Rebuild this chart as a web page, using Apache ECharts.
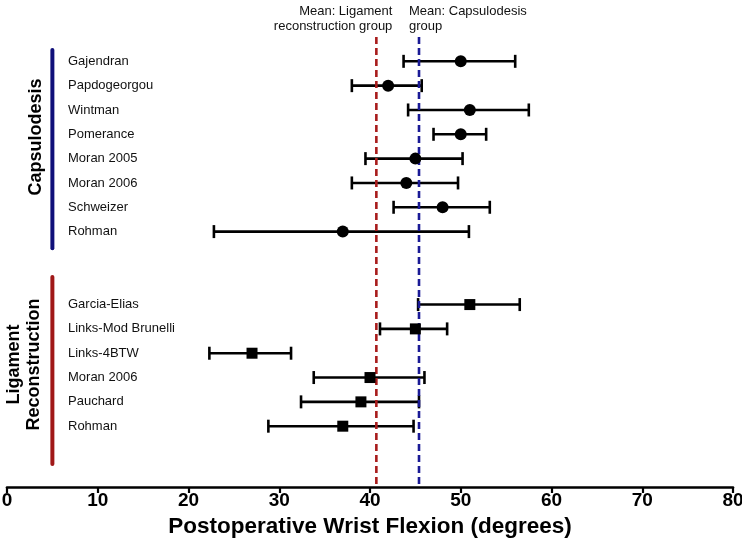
<!DOCTYPE html>
<html>
<head>
<meta charset="utf-8">
<script src="https://cdn.jsdelivr.net/npm/echarts@6/dist/echarts.min.js"></script>
<style>
html,body{margin:0;padding:0;background:#fff;}
#chart{width:742px;height:540px;}
</style>
</head>
<body>
<div id="chart"></div>
<script>
// Capsulodesis group
var capNames = ['Gajendran','Papdogeorgou','Wintman','Pomerance','Moran 2005','Moran 2006','Schweizer','Rohman'];
var capMean  = [50, 42, 51, 50, 45, 44, 48, 37];
var capLow   = [43.7, 38, 44.2, 47, 39.5, 38, 42.6, 22.8];
var capHigh  = [56, 45.7, 57.5, 52.8, 50.2, 49.7, 53.2, 50.9];

// Ligament reconstruction group
var ligNames = ['Garcia-Elias','Links-Mod Brunelli','Links-4BTW','Moran 2006','Pauchard','Rohman'];
var ligMean  = [51, 45, 27, 40, 39, 37];
var ligLow   = [45.3, 41.1, 22.3, 33.8, 32.4, 28.8];
var ligHigh  = [56.5, 48.5, 31.3, 46, 45.4, 44.8];

// group means
var meanLig = 40.7;
var meanCap = 45.4;

var xTicks = [0,10,20,30,40,50,60,70,80];
var axisTitle = 'Postoperative Wrist Flexion (degrees)';

var FONT = '"Liberation Sans", Arial, sans-serif';
var gapRows = 2;
var ligStart = capNames.length + gapRows;
var rowLabels = capNames.concat(['','']).concat(ligNames);

var capErr = capNames.map(function(n,i){ return [i, capLow[i], capHigh[i], capMean[i]]; });
var ligErr = ligNames.map(function(n,i){ return [ligStart + i, ligLow[i], ligHigh[i], ligMean[i]]; });
var capPts = capMean.map(function(v,i){ return [v, i]; });
var ligPts = ligMean.map(function(v,i){ return [v, ligStart + i]; });

function errRender(params, api){
  var row = api.value(0);
  var p1 = api.coord([api.value(1), row]);
  var p2 = api.coord([api.value(2), row]);
  var h = 6.5;
  var st = {stroke:'#000', lineWidth:2.6};
  return {type:'group', children:[
    {type:'line', shape:{x1:p1[0],y1:p1[1],x2:p2[0],y2:p2[1]}, style:st},
    {type:'line', shape:{x1:p1[0],y1:p1[1]-h,x2:p1[0],y2:p1[1]+h}, style:st},
    {type:'line', shape:{x1:p2[0],y1:p2[1]-h,x2:p2[0],y2:p2[1]+h}, style:st}
  ]};
}

var meanData = [
  [meanLig, '#a81c1c', 'Mean: Ligament\nreconstruction group', 'right'],
  [meanCap, '#1a1a96', 'Mean: Capsulodesis\ngroup', 'left']
];
function meanRender(params, api){
  var cs = params.coordSys;
  var x = api.coord([api.value(0), 0])[0];
  var d = meanData[params.dataIndex];
  return {type:'group', children:[
    {type:'line', shape:{x1:x,y1:cs.y,x2:x,y2:cs.y+cs.height},
     style:{stroke:d[1], lineWidth:2.6, lineDash:[7,4]}},
    {type:'text', x: d[3]==='right' ? x+16 : x-10, y: 4,
     style:{text:d[2], fill:'#111', font:'13px '+FONT, textAlign:d[3], textVerticalAlign:'top', lineHeight:15}}
  ]};
}

var groupData = [
  [5, -0.47, 7.68, '#10107a', 'Capsulodesis'],
  [5, 8.87, 16.55, '#a01818', 'Ligament\nReconstruction']
];
function groupRender(params, api){
  var d = groupData[params.dataIndex];
  var a = api.coord([d[0], d[1]]);
  var b = api.coord([d[0], d[2]]);
  var single = d[4].indexOf('\n') < 0;
  return {type:'group', children:[
    {type:'line', shape:{x1:a[0],y1:a[1],x2:b[0],y2:b[1]},
     style:{stroke:d[3], lineWidth:4, lineCap:'round'}},
    {type:'text', x: single ? a[0]-16 : a[0]-28, y: single ? (a[1]+b[1])/2 - 12 : (a[1]+b[1])/2 - 6,
     rotation: Math.PI/2,
     style:{text:d[4], fill:'#000', font:'bold 18px '+FONT, textAlign:'center', textVerticalAlign:'middle', lineHeight:20}}
  ]};
}

var chart = echarts.init(document.getElementById('chart'));
chart.setOption({
  animation:false,
  backgroundColor:'#fff',
  grid:{left:7, right:9, top:37, bottom:53, containLabel:false, outerBoundsMode:'none'},
  xAxis:{
    type:'value', min:xTicks[0], max:xTicks[xTicks.length-1], interval:10,
    axisLine:{show:true, onZero:false, lineStyle:{color:'#000', width:2.6}},
    axisTick:{show:true, length:6, lineStyle:{color:'#000', width:2.2}},
    splitLine:{show:false},
    axisLabel:{color:'#000', fontFamily:FONT, fontWeight:'bold', fontSize:19, margin:4},
    name:axisTitle, nameLocation:'middle', nameGap:28,
    nameTextStyle:{color:'#000', fontFamily:FONT, fontWeight:'bold', fontSize:22.5}
  },
  yAxis:{
    type:'value', inverse:true, min:-1, max:17.5, interval:1,
    axisLine:{show:false}, axisTick:{show:false}, splitLine:{show:false},
    axisLabel:{inside:true, margin:61, color:'#111', fontFamily:FONT, fontSize:13,
      formatter:function(v){ return (v>=0 && v<rowLabels.length && v===Math.round(v)) ? rowLabels[v] : ''; }}
  },
  series:[
    {type:'custom', renderItem:groupRender, data:groupData.map(function(d){return [d[0], d[1], d[2]];}), z:1, silent:true},
    {type:'custom', renderItem:errRender, data:capErr, z:2, encode:{x:[1,2], y:0}},
    {type:'custom', renderItem:errRender, data:ligErr, z:2, encode:{x:[1,2], y:0}},
    {type:'custom', renderItem:meanRender, data:meanData.map(function(d){return [d[0]];}), z:3, encode:{x:0}},
    {type:'scatter', data:capPts, symbol:'circle', symbolSize:12, itemStyle:{color:'#000', opacity:1}, z:4},
    {type:'scatter', data:ligPts, symbol:'rect', symbolSize:11, itemStyle:{color:'#000', opacity:1}, z:4}
  ]
});
</script>
</body>
</html>
